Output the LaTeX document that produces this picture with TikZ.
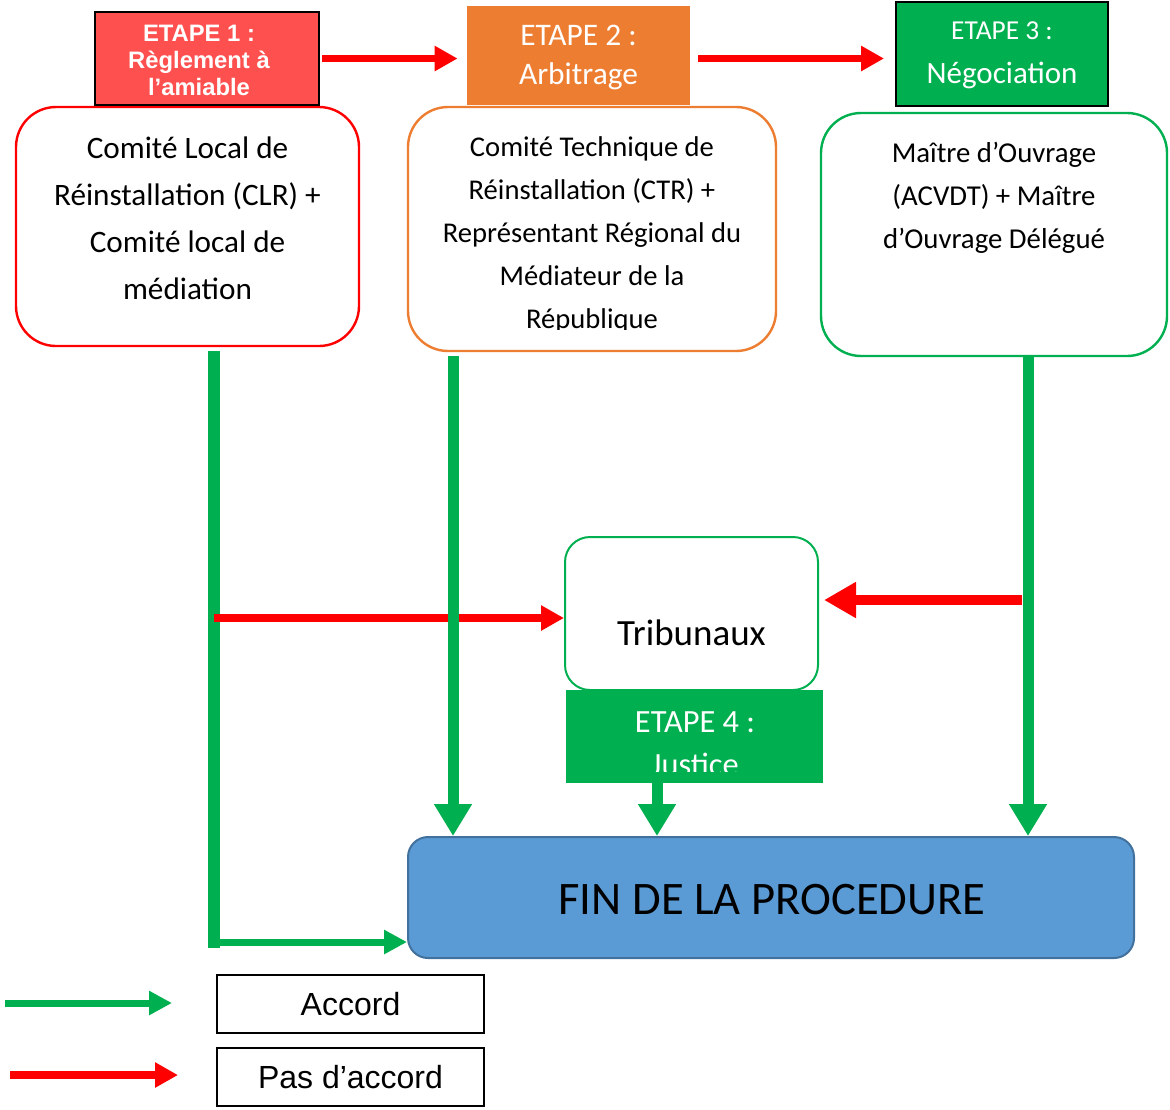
\documentclass[tikz,border=0pt]{standalone}
\usepackage{fontspec}
\setmainfont{Carlito}
\newfontfamily\arialfont{Liberation Sans}
\usetikzlibrary{arrows.meta, positioning}
\definecolor{stepred}{HTML}{FF5050}
\definecolor{steporange}{HTML}{ED7D31}
\definecolor{stepgreen}{HTML}{00B050}
\definecolor{finblue}{HTML}{5B9BD5}
\definecolor{finedge}{HTML}{41719C}

\begin{document}
\begin{tikzpicture}[
    x=0.5pt, y=-0.5pt,
    etape/.style ={rectangle, align=center, text=white, inner sep=0pt},
    comite/.style={rectangle, rounded corners=20pt, fill=white, line width=1.2pt},
    txt/.style   ={align=center, inner sep=0pt},
    legbox/.style={draw, line width=0.6pt, minimum width=133.5pt, minimum height=29pt,
                   font=\arialfont\fontsize{16}{18}\selectfont},
    accord/.style={-{Triangle[length=11.5pt, width=11.5pt]}, draw=stepgreen, line width=3.5pt},
    bigacc/.style={-{Triangle[length=16pt, width=18pt]}, draw=stepgreen, line width=5.5pt},
    refus/.style ={-{Triangle[length=11.5pt, width=12pt]}, draw=red, line width=3.5pt},
    trunk/.style ={draw=stepgreen, line width=6pt},
]
\useasboundingbox (0,0) rectangle (1170,1109);

% stage 1: amicable settlement
\node[comite, draw=red, minimum width=171.5pt, minimum height=119.5pt] (clr) at (187.5,226.5) {};
\node[txt, below=15.5pt of clr.north, font=\fontsize{15.6}{23.5}\selectfont] (clrtxt)
     {Comité Local de\\Réinstallation (CLR) +\\Comité local de\\médiation};
\node[etape, draw=black, line width=1pt, fill=stepred, minimum width=112pt, minimum height=46.5pt,
      font=\arialfont\bfseries\fontsize{11.9}{13.5}\selectfont] (e1) at (207,58.5) {};
\node[etape, font=\arialfont\bfseries\fontsize{11.9}{13.5}\selectfont] (e1txt) at (199,60)
     {ETAPE 1 :\\Règlement à\\l’amiable};

% stage 2: arbitration
\node[comite, draw=steporange, minimum width=184pt, minimum height=122pt] (ctr) at (592,229) {};
\begin{scope}
  \clip (408,107) rectangle (776,329);
  \node[txt, below=15pt of ctr.north, font=\fontsize{14.3}{21.5}\selectfont] (ctrtxt)
       {Comité Technique de\\Réinstallation (CTR) +\\Représentant Régional du\\Médiateur de la\\République};
\end{scope}
\node[etape, fill=steporange, minimum width=111.5pt, minimum height=49.5pt] (e2) at (578.5,55.5) {};
\node[etape, font=\fontsize{15.7}{19.5}\selectfont] (e2txt) at (578.5,58) {ETAPE 2 :\\Arbitrage};

% stage 3: negotiation
\node[comite, draw=stepgreen, minimum width=173pt, minimum height=121.5pt] (neg) at (994,234.5) {};
\node[txt, below=15pt of neg.north, font=\fontsize{14.4}{21.5}\selectfont] (negtxt)
     {Maître d’Ouvrage\\(ACVDT) + Maître\\d’Ouvrage Délégué};
\node[etape, draw=black, line width=1pt, fill=stepgreen, minimum width=106pt, minimum height=52pt] (e3)
     at (1002,54) {};
\node[etape, font=\fontsize{15.5}{22}\selectfont] (e3txt) at (1002,55)
     {{\fontsize{13.7}{22}\selectfont ETAPE 3 :}\\Négociation};

% stage 4: courts
\node[comite, draw=stepgreen, line width=1pt, rounded corners=12.5pt,
      minimum width=126.5pt, minimum height=76.5pt] (trib) at (691.5,613.5) {};
\node[txt, font=\fontsize{18.5}{22}\selectfont] (tribtxt) at ([yshift=-9.5pt]trib.center) {Tribunaux};
\node[etape, fill=stepgreen, minimum width=128.5pt, minimum height=46.5pt] (e4) at (694.5,736.5) {};
\begin{scope}
  \clip (566,690) rectangle (823,771);
  \node[etape, font=\fontsize{16.2}{21.5}\selectfont] (e4txt) at (695,744) {ETAPE 4 :\\Justice};
\end{scope}

% end of the procedure
\node[rectangle, rounded corners=10pt, fill=finblue, draw=finedge, line width=1pt,
      minimum width=363pt, minimum height=60.5pt] (fin) at (771,897.5) {};
\node[txt, font=\fontsize{23.3}{26}\selectfont] (fintxt) at (772,900) {FIN DE LA PROCEDURE};

% no agreement: go to next stage
\draw[refus, shorten <=1pt, shorten >=4.5pt] (e1.east) -- (e1.east -| e2.west);
\draw[refus, shorten <=4pt, shorten >=5.5pt] (e2.east |- e1.east) -- (e1.east -| e3.west);

% agreement: end of the procedure
\coordinate (k1) at (214,351);
\coordinate (k2) at (214,948);
\coordinate (k3) at (214,942);
\coordinate (k4) at (214,618);
\draw[trunk] (k1) -- (k2);
\draw[accord] (k3) -- (k3 -| fin.west);
\draw[refus, line width=4pt] (k4) -- (k4 -| trib.west);
\coordinate (a2) at (453,356);
\coordinate (a3) at (1028,357);
\coordinate (a4) at (657,783);
\draw[bigacc] (a2) -- (a2 |- fin.north);
\draw[bigacc] (a3) -- (a3 |- fin.north);
\draw[bigacc] (a4) -- (a4 |- fin.north);
\coordinate (r3) at (1022,600);
\draw[refus, line width=5pt, -{Triangle[length=16pt, width=17pt]}, shorten >=2.5pt]
     (r3) -- (r3 -| trib.east);

% legend
\coordinate (lg1) at (5,1003);
\coordinate (lg2) at (172,1003);
\coordinate (lg3) at (10,1075);
\coordinate (lg4) at (178,1075);
\draw[accord] (lg1) -- (lg2);
\draw[refus, line width=4pt] (lg3) -- (lg4);
\node[legbox] (acc) at (350.5,1004) {Accord};
\node[legbox] (pas) at (350.5,1077) {Pas d’accord};
\end{tikzpicture}
\end{document}
